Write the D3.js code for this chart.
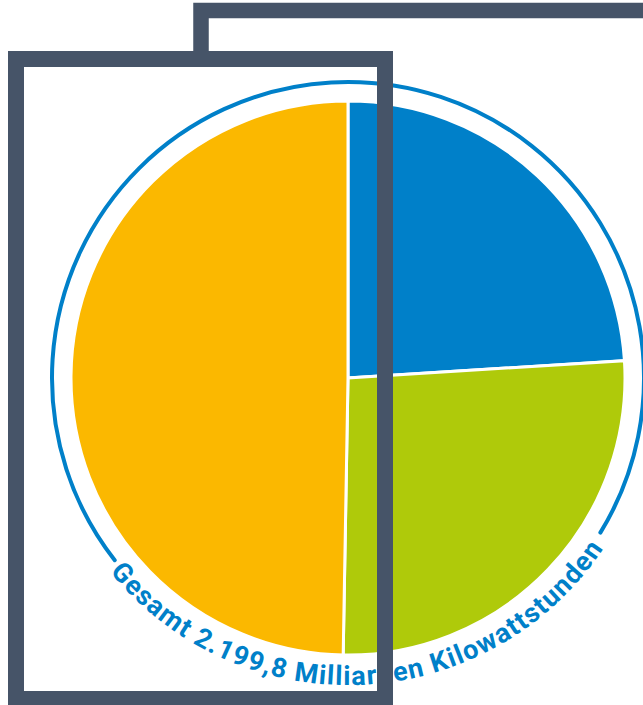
<!DOCTYPE html>
<html>
<head>
<meta charset="utf-8">
<script src="https://cdn.jsdelivr.net/npm/d3@7"></script>
<style>
  html, body { margin: 0; padding: 0; background: #fff; }
  svg { display: block; }
</style>
</head>
<body>
<svg id="chart" width="643" height="705"></svg>
<script>
// data (billions of kWh), clockwise from 12 o'clock
const categories = ["Strom", "Verkehr", "Wärme"];
const values = [528.0, 578.0, 1093.8];
const colors = ["#0080c9", "#afca0a", "#fbb800"];
const totalLabel = "Gesamt 2.199,8 Milliarden Kilowattstunden";

(function () {
  const W = 643, H = 705;
  const cx = 348, cy = 378,
        radius = 277,
        ringR = 296,
        textR = 307;
  const frameColor = "#465468",
        blue = "#0080c9";

  const svg = d3.select("#chart");
  const deg = Math.PI / 180;

  // back frame (only its top-left corner is visible)
  svg.append("rect")
    .attr("x", 201).attr("y", 10.5)
    .attr("width", 700).attr("height", 900)
    .attr("fill", "#fff")
    .attr("stroke", frameColor)
    .attr("stroke-width", 15.5);

  // front frame, white fill hides the back frame
  svg.append("rect")
    .attr("x", 16).attr("y", 59)
    .attr("width", 369).attr("height", 640)
    .attr("fill", "#fff")
    .attr("stroke", "none");

  const g = svg.append("g")
    .attr("transform", `translate(${cx}, ${cy})`);

  // outer ring, open at the bottom for the label
  const ring = d3.path();
  ring.arc(0, 0, ringR, (-128 - 90) * deg, (121.5 - 90) * deg);
  g.append("path")
    .attr("d", ring.toString())
    .attr("fill", "none")
    .attr("stroke", blue)
    .attr("stroke-width", 4)
    .attr("stroke-linecap", "round");

  // pie
  const pie = d3.pie().sort(null).value(d => d.value);
  const arc = d3.arc().innerRadius(0).outerRadius(radius);
  const data = categories.map((c, i) => ({ name: c, value: values[i], color: colors[i] }));

  g.selectAll(".slice")
    .data(pie(data))
    .enter()
    .append("path")
    .attr("class", "slice")
    .attr("d", arc)
    .attr("fill", d => d.data.color)
    .attr("stroke", "#fff")
    .attr("stroke-width", 3)
    .append("title")
    .text(d => `${d.data.name}: ${d.data.value}`);

  // label along the bottom arc
  const tp = d3.path();
  tp.moveTo(-textR, 0);
  tp.arc(0, 0, textR, Math.PI, 0, true);
  g.append("path")
    .attr("id", "labelPath")
    .attr("d", tp.toString())
    .attr("fill", "none");

  const center = 177.3; // angle (deg, clockwise from top) of label centre
  const offset = (270 - center) / 180 * 100;

  g.append("text")
    .style("font-family", "Roboto, 'DejaVu Sans', sans-serif")
    .style("font-weight", "700")
    .style("font-size", "27px")
    .attr("fill", blue)
    .append("textPath")
    .attr("href", "#labelPath")
    .attr("startOffset", offset + "%")
    .attr("text-anchor", "middle")
    .attr("textLength", 574)
    .attr("lengthAdjust", "spacing")
    .text(totalLabel);

  // front frame stroke on top of everything
  svg.append("rect")
    .attr("x", 16).attr("y", 59)
    .attr("width", 369).attr("height", 640)
    .attr("fill", "none")
    .attr("stroke", frameColor)
    .attr("stroke-width", 16);
})();
</script>
</body>
</html>
